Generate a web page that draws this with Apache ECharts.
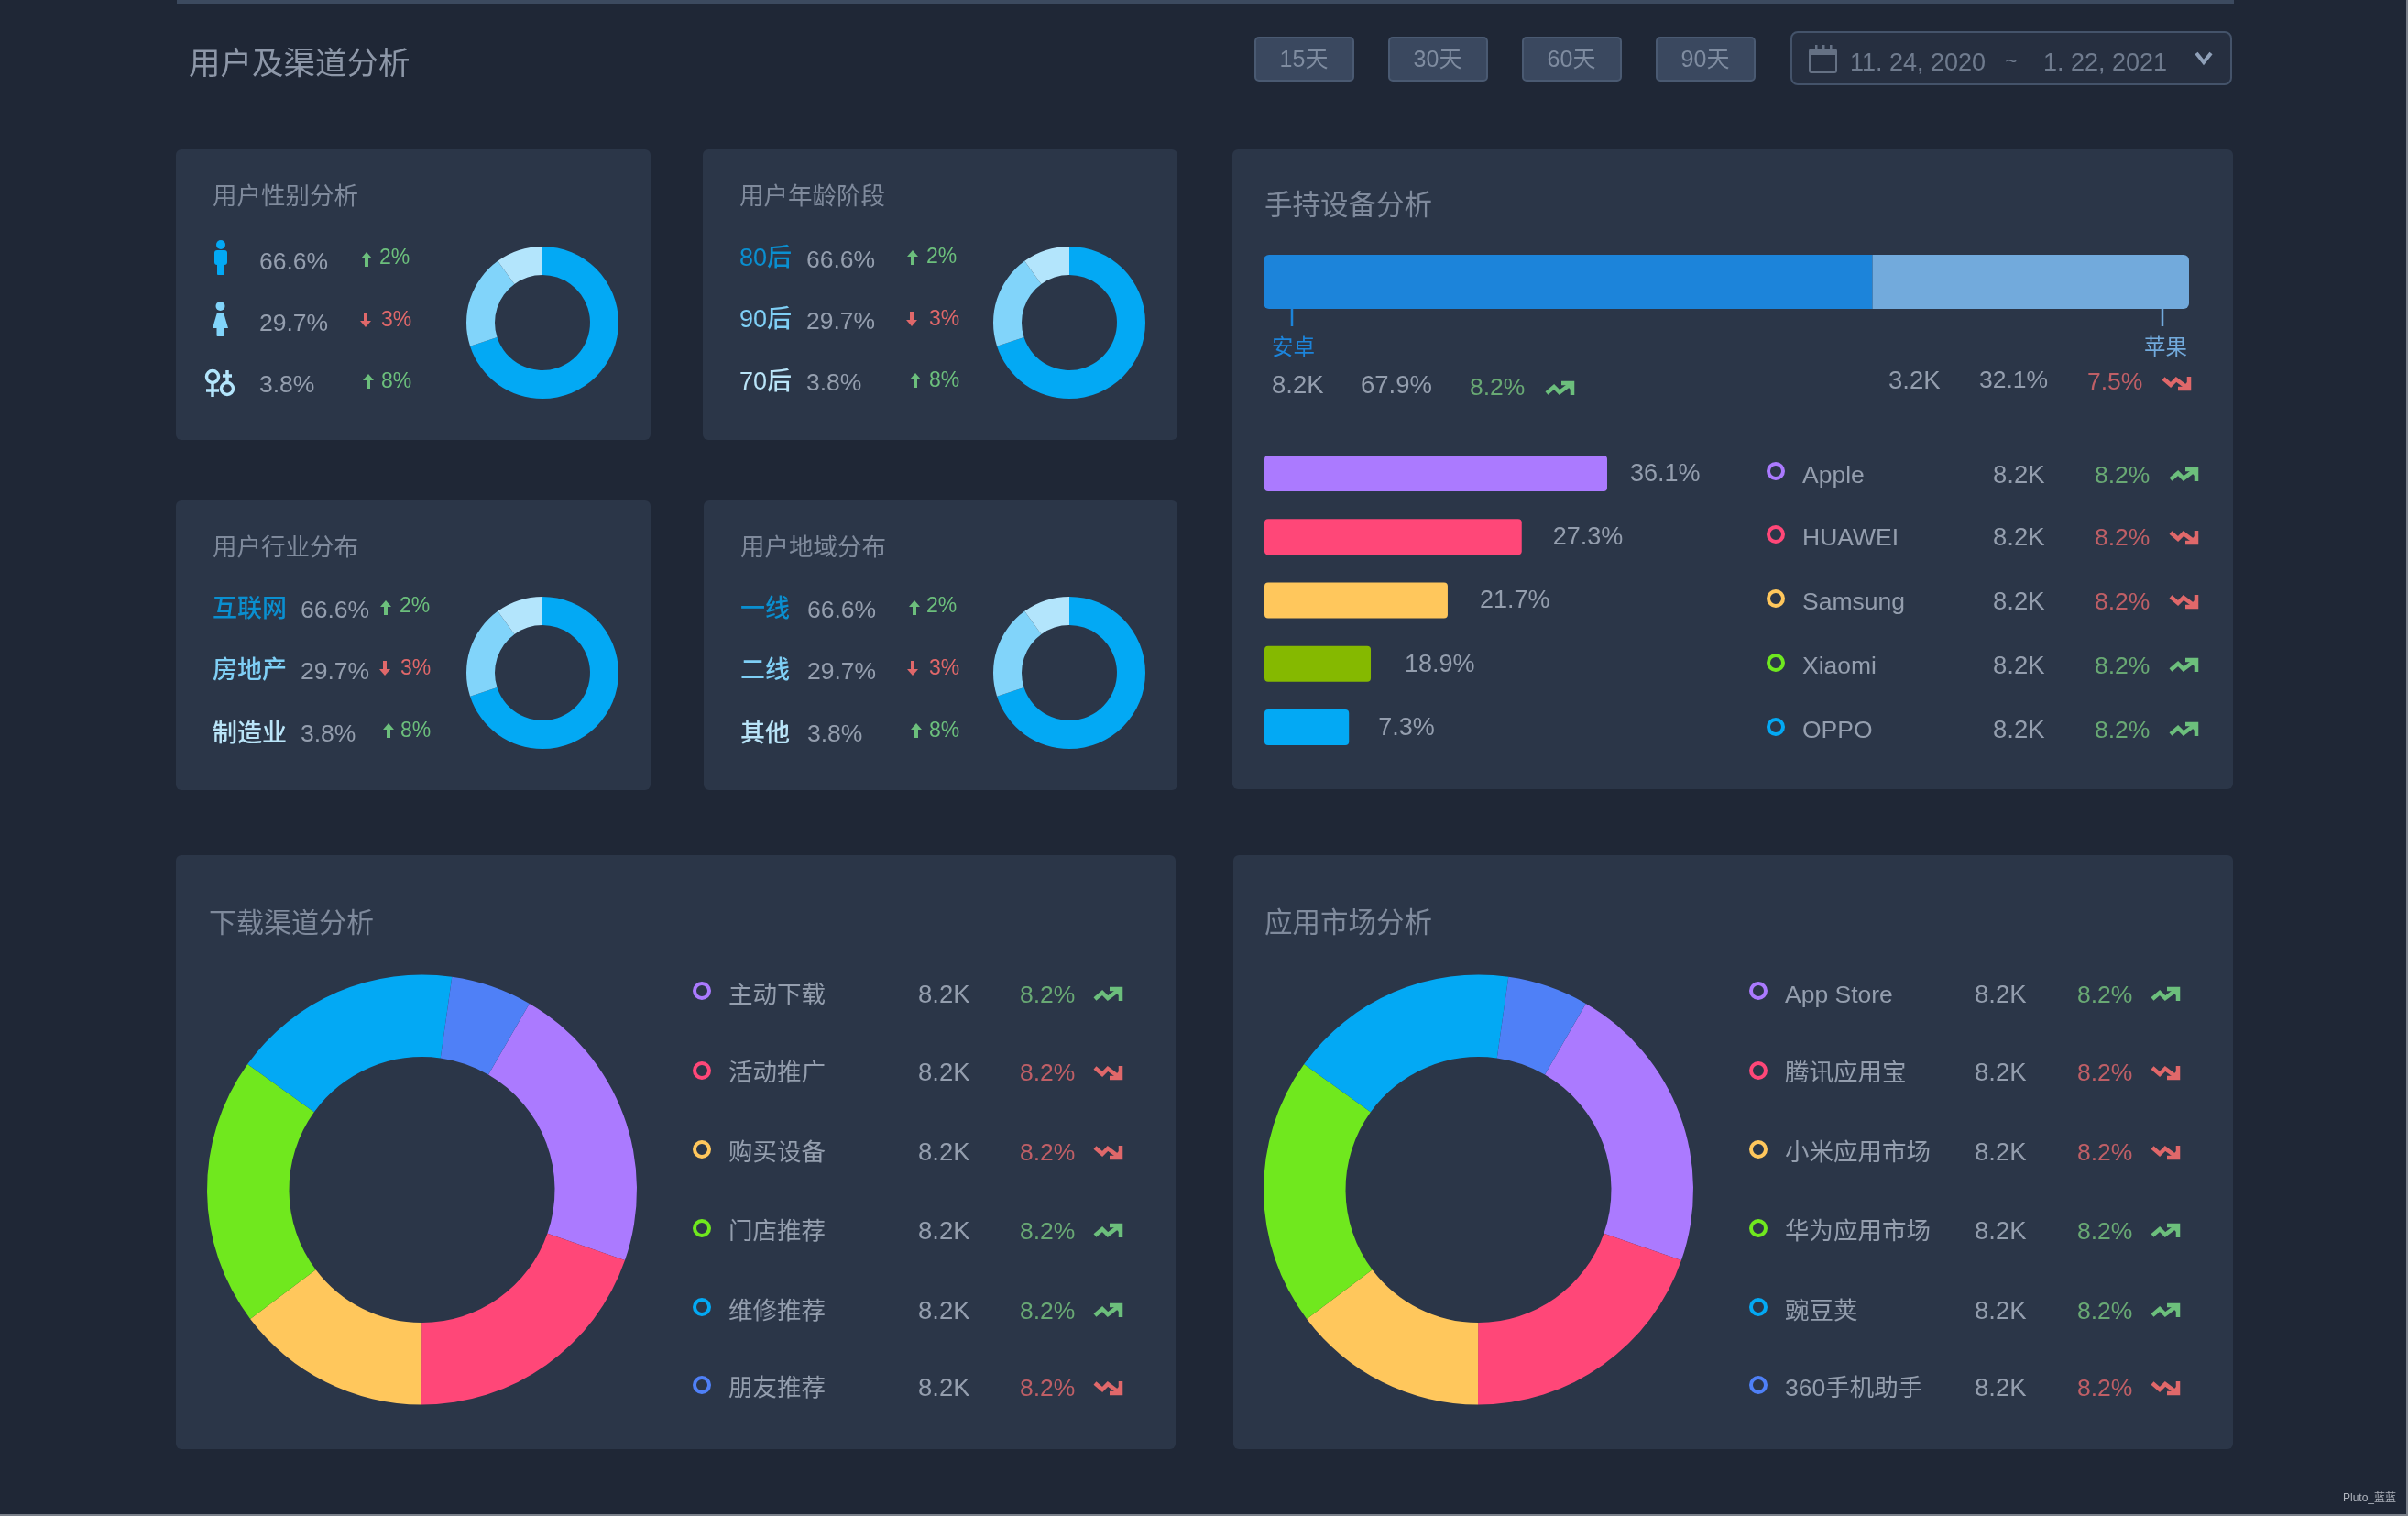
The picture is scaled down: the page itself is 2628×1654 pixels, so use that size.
<!DOCTYPE html>
<html>
<head>
<meta charset="utf-8">
<title>用户及渠道分析</title>
<style>
  html, body { margin: 0; padding: 0; background: #1f2736; overflow: hidden; }
  #chart { width: 2628px; height: 1654px; }
</style>
<script src="https://cdn.jsdelivr.net/npm/echarts@6/dist/echarts.min.js"></script>
</head>
<body>
<div id="chart"></div>
<script>
// data
const rangeButtons = ['15天', '30天', '60天', '90天'];
const dateFrom = '11. 24, 2020';
const dateTo = '1. 22, 2021';

const sharePct = ['66.6%', '29.7%', '3.8%'];
const shareDelta = ['2%', '3%', '8%'];
const shareDir = ['up', 'down', 'up'];
const ringValues = [70, 20, 10];

const ageLabels = ['80后', '90后', '70后'];
const industryLabels = ['互联网', '房地产', '制造业'];
const regionLabels = ['一线', '二线', '其他'];

const osNames = ['安卓', '苹果'];
const osBarValues = [65.8, 34.2];
const osCount = ['8.2K', '3.2K'];
const osPct = ['67.9%', '32.1%'];
const osDelta = ['8.2%', '7.5%'];
const osDir = ['up', 'down'];

const brandNames = ['Apple', 'HUAWEI', 'Samsung', 'Xiaomi', 'OPPO'];
const brandBarValues = [36.1, 27.1, 19.3, 11.2, 8.9];
const brandBarLabels = ['36.1%', '27.3%', '21.7%', '18.9%', '7.3%'];
const brandDir = ['up', 'down', 'down', 'up', 'up'];

const channelNames = ['主动下载', '活动推广', '购买设备', '门店推荐', '维修推荐', '朋友推荐'];
const marketNames = ['App Store', '腾讯应用宝', '小米应用市场', '华为应用市场', '豌豆荚', '360手机助手'];
const channelValues = [22, 19.7, 14.7, 20.2, 17.3, 6.1];
const marketValues = [22, 19.7, 14.7, 20.2, 17.3, 6.1];
const listDir = ['up', 'down', 'down', 'up', 'up', 'down'];
const listCount = '8.2K';
const listDelta = '8.2%';

// colours
const BG = '#1f2736', CARD = '#2b3648';
const TITLE = '#7f8a9c', TEXT = '#949eae';
const UP = '#6cbf7c', DOWN = '#e0686a';
const UP_SOFT = '#69a974', DOWN_SOFT = '#bf5f66';
const ringColors = ['#03a9f4', '#81d4fa', '#b3e5fc'];
const labelColors = ['#0a8fd0', '#7fcff5', '#b9e4f8'];
const osColors = ['#1c84da', '#72aadc'];
const brandColors = ['#ab7aff', '#ff4778', '#ffc75c', '#85b900', '#03a9f4'];
const brandDots = ['#ab7aff', '#ff4778', '#ffc75c', '#6fe81f', '#03a9f4'];
const sliceColors = ['#ab7aff', '#ff4778', '#ffc75c', '#70e81e', '#03a9f4', '#4f80f7'];

const FONT = '"Liberation Sans","Noto Sans CJK SC",sans-serif';

// graphic helpers
const els = [];
function txt(text, x, y, size, fill, align, weight) {
  els.push({
    type: 'text', z: 5,
    style: {
      text: text, x: x, y: y, fill: fill,
      font: (weight || 'normal') + ' ' + size + 'px ' + FONT,
      textAlign: align || 'left', textVerticalAlign: 'middle'
    }
  });
}
function rect(x, y, w, h, r, fill, stroke, lw) {
  els.push({
    type: 'rect', z: 1,
    shape: { x: x, y: y, width: w, height: h, r: r },
    style: { fill: fill, stroke: stroke || null, lineWidth: lw || 0 }
  });
}
function line(points, stroke, lw) {
  els.push({ type: 'polyline', z: 4, shape: { points: points }, style: { fill: null, stroke: stroke, lineWidth: lw } });
}
function poly(points, fill) {
  els.push({ type: 'polygon', z: 4, shape: { points: points }, style: { fill: fill } });
}
function circle(x, y, r, fill, stroke, lw) {
  els.push({
    type: 'circle', z: 4,
    shape: { cx: x, cy: y, r: r },
    style: { fill: fill || null, stroke: stroke || null, lineWidth: lw || 0 }
  });
}
// small up / down arrow next to the delta text
function arrow(x, y, dir, color) {
  const s = dir === 'up' ? 1 : -1;
  poly([[x, y - 8 * s], [x + 6, y - 1 * s], [x - 6, y - 1 * s]], color);
  rect(x - 2, Math.min(y - 2 * s, y + 8 * s), 4, 10, 0, color);
  els[els.length - 1].z = 4;
}
// zigzag trend icon, 31 wide
function trend(x, y, dir, color) {
  const s = dir === 'up' ? 1 : -1;
  line([[x + 1, y + 5 * s], [x + 9, y - 2 * s], [x + 15, y + 4 * s], [x + 27, y - 5 * s]], color, 4.5);
  line([[x + 17, y - 6 * s], [x + 29, y - 6 * s], [x + 29, y + 7 * s]], color, 4.5);
  poly([[x + 20, y - 6 * s], [x + 29, y - 6 * s], [x + 29, y + 3 * s]], color);
}
function ring(x, y, color) {
  circle(x, y, 8, null, color, 4);
}

// page frame
rect(193, 0, 2245, 4, 0, '#3c4a5f');
rect(0, 1652, 2628, 2, 0, '#7a808a');
rect(2626, 0, 2, 1654, 0, '#7a808a');
txt('用户及渠道分析', 206, 71, 34.5, '#8d97a8');

// range buttons and date picker
[1370, 1516, 1662, 1808].forEach(function (x, i) {
  rect(x, 41, 107, 47, 4, '#3a485f', '#4a5a72', 2);
  txt(rangeButtons[i], x + 53, 66, 25, '#7f8ca0', 'center');
});
rect(1955, 35, 480, 57, 7, '#262f40', '#44536a', 2);
rect(1975, 54, 29, 25, 2, null, '#657184', 2);
rect(1975, 54, 29, 6, 0, '#657184');
[1981, 1989, 1997].forEach(function (x) { rect(x, 49, 2.5, 6, 0, '#657184'); });
txt(dateFrom, 2019, 70, 27, '#6f7b8e');
txt('~', 2195, 68, 22, '#6f7b8e', 'center');
txt(dateTo, 2230, 70, 27, '#6f7b8e');
line([[2397, 58], [2405, 68], [2413, 58]], '#8fa0b8', 4);

// cards
rect(192, 163, 518, 317, 6, CARD);
rect(767, 163, 518, 317, 6, CARD);
rect(192, 546, 518, 316, 6, CARD);
rect(768, 546, 517, 316, 6, CARD);
rect(1345, 163, 1092, 698, 6, CARD);
rect(192, 933, 1091, 648, 6, CARD);
rect(1346, 933, 1091, 648, 6, CARD);

// four small cards
txt('用户性别分析', 232, 216, 26.5, TITLE);
txt('用户年龄阶段', 807, 216, 26.5, TITLE);
txt('用户行业分布', 232, 599, 26.5, TITLE);
txt('用户地域分布', 808, 599, 26.5, TITLE);

function shareRows(l) {
  sharePct.forEach(function (p, i) {
    if (l.names) txt(l.names[i], l.nameX, l.nameY[i], 27, labelColors[i], 'left', 500);
    txt(p, l.valX, l.valY[i], 26.5, TEXT);
    const c = shareDir[i] === 'up' ? UP : DOWN;
    arrow(l.arrowX[i], l.arrowY[i], shareDir[i], c);
    txt(shareDelta[i], l.deltaX[i], l.deltaY[i], 23, c);
  });
}
shareRows({ valX: 283, valY: [287, 354, 421], arrowX: [400, 399, 402], arrowY: [283, 349, 416], deltaX: [414, 416, 416], deltaY: [282, 350, 417] });
shareRows({ names: ageLabels, nameX: 807, nameY: [283, 350, 418], valX: 880, valY: [285, 352, 419], arrowX: [996, 995, 999], arrowY: [281, 348, 415], deltaX: [1011, 1014, 1014], deltaY: [281, 349, 416] });
shareRows({ names: industryLabels, nameX: 232, nameY: [666, 733, 802], valX: 328, valY: [667, 734, 802], arrowX: [421, 420, 424], arrowY: [663, 729, 797], deltaX: [436, 437, 437], deltaY: [662, 730, 798] });
shareRows({ names: regionLabels, nameX: 808, nameY: [666, 733, 802], valX: 881, valY: [667, 734, 802], arrowX: [998, 996, 1000], arrowY: [663, 729, 797], deltaX: [1011, 1014, 1014], deltaY: [662, 730, 798] });

// gender icons
circle(241, 267, 5, ringColors[0]);
rect(234, 273, 14, 16, 3, ringColors[0]);
rect(237, 287, 8, 13, 1, ringColors[0]);
circle(240.5, 334, 5, ringColors[1]);
poly([[237, 341], [244, 341], [249, 358], [232, 358]], ringColors[1]);
rect(236.5, 356, 8, 11, 1, ringColors[1]);
circle(232, 411, 6.5, null, ringColors[2], 3.5);
line([[232, 418], [232, 433]], ringColors[2], 3.5);
line([[225, 426], [239, 426]], ringColors[2], 3.5);
circle(248, 424, 6.5, null, ringColors[2], 3.5);
line([[248, 417], [248, 404]], ringColors[2], 3.5);
line([[243, 410], [253, 410]], ringColors[2], 3.5);

// device card
txt('手持设备分析', 1380, 226, 30.5, TITLE);
line([[1410, 337], [1410, 356]], osColors[0], 2.5);
line([[2360, 337], [2360, 356]], osColors[1], 2.5);
txt(osNames[0], 1388, 381, 23.5, osColors[0]);
txt(osNames[1], 2340, 381, 23.5, osColors[1]);
txt(osCount[0], 1388, 421, 27.5, TEXT);
txt(osPct[0], 1485, 421, 27.5, TEXT);
txt(osDelta[0], 1604, 424, 26.5, UP_SOFT);
trend(1687, 424, osDir[0], UP);
txt(osCount[1], 2061, 416, 27.5, TEXT);
txt(osPct[1], 2160, 416, 26.5, TEXT);
txt(osDelta[1], 2278, 418, 26.5, DOWN_SOFT);
trend(2360, 418, osDir[1], DOWN);

function listRow(y, ringY, name, dir, color, l) {
  ring(l.ringX, ringY, color);
  txt(name, l.nameX, y + 1.5, 26.5, TEXT);
  txt(listCount, l.countX, y + 1.5, 27.5, TEXT);
  txt(listDelta, l.deltaX, y + 1.5, 26.5, dir === 'up' ? UP_SOFT : DOWN_SOFT);
  trend(l.iconX, y, dir, dir === 'up' ? UP : DOWN);
}
const brandRowY = [518, 586, 656, 726, 796];
const brandRingY = [514, 583, 653, 723, 793];
brandNames.forEach(function (n, i) {
  listRow(brandRowY[i], brandRingY[i], n, brandDir[i], brandDots[i], { ringX: 1938, nameX: 1967, countX: 2175, deltaX: 2286, iconX: 2368 });
});

// two big cards
txt('下载渠道分析', 228, 1009, 30, TITLE);
txt('应用市场分析', 1380, 1009, 30.5, TITLE);
const bigRowY = [1085, 1170, 1257, 1343, 1430, 1514];
const bigRingY = [1081, 1168, 1254, 1340, 1426, 1511];
channelNames.forEach(function (n, i) {
  listRow(bigRowY[i], bigRingY[i], n, listDir[i], sliceColors[i], { ringX: 766, nameX: 795, countX: 1002, deltaX: 1113, iconX: 1194 });
});
marketNames.forEach(function (n, i) {
  listRow(bigRowY[i], bigRingY[i], n, listDir[i], sliceColors[i], { ringX: 1919, nameX: 1948, countX: 2155, deltaX: 2267, iconX: 2348 });
});

txt('Pluto_蓝蓝', 2557, 1635, 12, '#b0b5be');

// series
function smallRing(cx, cy) {
  return {
    type: 'pie', silent: true, z: 3,
    center: [cx, cy], radius: [52, 83], startAngle: 90, clockwise: true,
    label: { show: false }, labelLine: { show: false },
    data: ringValues.map(function (v, i) { return { value: v, itemStyle: { color: ringColors[i] } }; })
  };
}
function bigRing(cx, cy, names, values) {
  return {
    type: 'pie', silent: true, z: 3,
    center: [cx, cy], radius: [145, 234.5], startAngle: 60, clockwise: true,
    label: { show: false }, labelLine: { show: false },
    data: values.map(function (v, i) { return { name: names[i], value: v, itemStyle: { color: sliceColors[i] } }; })
  };
}

// gap between bar end and its label, per row, as in the picture
const brandLabelGaps = [25, 34, 35, 37, 32];

const option = {
  animation: false,
  backgroundColor: BG,
  textStyle: { fontFamily: FONT },
  graphic: { elements: els },
  grid: [
    { left: 1379, top: 278, width: 1010, height: 59 },
    { left: 1380, top: 482, width: 1036, height: 346 }
  ],
  xAxis: [
    { gridIndex: 0, type: 'value', min: 0, max: 100, show: false },
    { gridIndex: 1, type: 'value', min: 0, max: 100, show: false }
  ],
  yAxis: [
    { gridIndex: 0, type: 'category', data: ['os'], show: false },
    { gridIndex: 1, type: 'category', data: brandNames, inverse: true, show: false }
  ],
  series: [
    {
      type: 'bar', xAxisIndex: 0, yAxisIndex: 0, stack: 'os', barWidth: 59, silent: true, z: 3,
      data: [{ value: osBarValues[0], name: osNames[0], itemStyle: { color: osColors[0], borderRadius: [6, 0, 0, 6] } }]
    },
    {
      type: 'bar', xAxisIndex: 0, yAxisIndex: 0, stack: 'os', barWidth: 59, silent: true, z: 3,
      data: [{ value: osBarValues[1], name: osNames[1], itemStyle: { color: osColors[1], borderRadius: [0, 6, 6, 0] } }]
    },
    {
      type: 'bar', xAxisIndex: 1, yAxisIndex: 1, barWidth: 39, silent: true, z: 3,
      data: brandBarValues.map(function (v, i) {
        return {
          value: v,
          itemStyle: { color: brandColors[i], borderRadius: 4 },
          label: { distance: brandLabelGaps[i] }
        };
      }),
      label: {
        show: true, position: 'right', color: TEXT, fontSize: 27, fontFamily: FONT, offset: [0, 1],
        formatter: function (p) { return brandBarLabels[p.dataIndex]; }
      }
    },
    smallRing(592, 352),
    smallRing(1167, 352),
    smallRing(592, 734),
    smallRing(1167, 734),
    bigRing(460.5, 1298, channelNames, channelValues),
    bigRing(1613.5, 1298, marketNames, marketValues)
  ]
};

const chart = echarts.init(document.getElementById('chart'));
chart.setOption(option);
</script>
</body>
</html>
